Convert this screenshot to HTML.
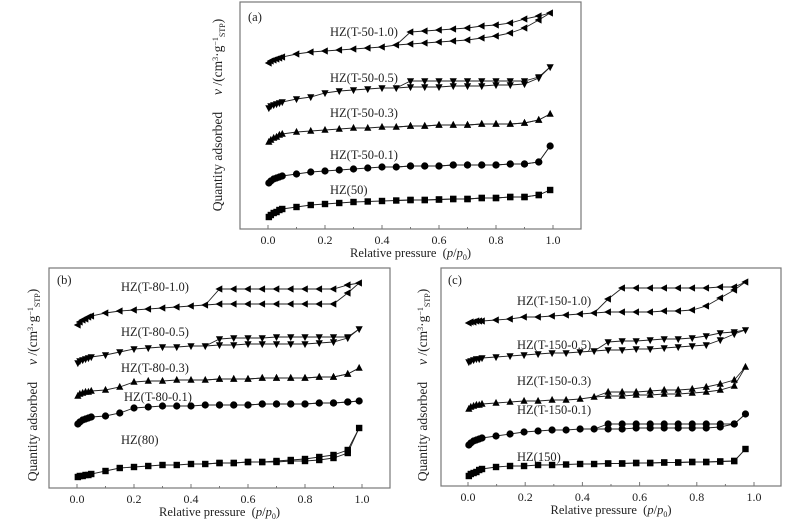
<!DOCTYPE html>
<html><head><meta charset="utf-8"><style>
body{margin:0;background:#fff;}
svg{display:block;font-family:"Liberation Serif",serif;}
</style></head><body>
<svg id="chart" width="793" height="524" viewBox="0 0 793 524"></svg>
<script>
const XA=[0.003,0.01,0.02,0.03,0.04,0.05,0.1,0.15,0.2,0.25,0.3,0.35,0.4,0.45,0.5,0.55,0.6,0.65,0.7,0.75,0.8,0.85,0.9,0.95,0.99];
const XD=[0.99,0.95,0.9,0.85,0.8,0.75,0.7,0.65,0.6,0.55,0.5,0.45];
const xTicks=[0.0,0.2,0.4,0.6,0.8,1.0];
const xTickLabels=["0.0","0.2","0.4","0.6","0.8","1.0"];
// panel a
const a50A=[12,14,16,17,19,20,22,24,25,26,27,27.5,28,28.5,29,29,29.5,30,30,31,31,32,32,34,39];
const a50D=[39,34,32,32,31,31,30,30,29.5,29,29,28.5];
const a01A=[46,48,50,51,52,53,55,57,58,59,60,61,62,62,63,63,63,64,64,64,64,65,65,67,83];
const a01D=[83,67,65,65,64,64,64,64,63,63,63,62];
const a03A=[87,89,91,92,94,95,97,98,99,100,101,101,102,102,103,103,104,104,104,105,105,105,106,109,115];
const a03D=[115,109,106,105,105,105,104,104,104,103,103,102];
const a05A=[121,123,124,125,126,127,130,132,136,138,139,140,141,141,142,142,142,143,143,143,144,144,145,151,162];
const a05D=[162,152,148,148,148,148,148,148,148,148,148,141];
const a10A=[166,168,169,170,171,172,175,177,178,179,180,181,182,184,185,186,187,188,189,191,193,196,201,209,216];
const a10D=[216,213,210,206,204,203,201,200,199,198,197,184];
// panel b
const b80A=[11,12,12,13,13,14,17,20,21,22,23,23,24,24,25,25,26,26,26,27,27,28,30,35,60];
const b80D=[60,38,33,31,29,28,27,26,26,25,25,24];
const b01A=[64,66,68,69,70,71,72,75,80,81,82,82,82,83,83,83,83,84,84,84,84,85,85,86,87];
const b01D=[87,86,85,85,84,84,84,84,83,83,83,83];
const b03A=[92,94,95,96,96,97,98,101,106,107,107,108,108,108,109,109,109,110,110,110,110,111,111,114,120];
const b03D=[120,114,111,111,110,110,110,110,109,109,109,108];
const b05A=[125,127,128,129,130,131,133,136,139,140,141,141,142,142,143,143,144,144,144,144,144,145,146,150,159];
const b05D=[159,151,151,151,151,151,151,150,150,150,149,142];
const b10A=[163,166,168,169,171,172,175,177,178,179,180,181,182,183,184,184,184,184,184,184,184,184,184,195,205];
const b10D=[205,203,199,199,199,199,199,199,199,199,199,183];
// panel c
const c150A=[10,12,13,14,16,17,19,20,20,21,21,21.5,22,22,22.5,22.5,23,23,23.5,23.5,24,24,24.5,25,37];
const c150D=[37,25,24.5,24,24,23.5,23.5,23,23,22.5,22.5,22];
const c01A=[41,43,45,46,47,48,50,52,54,55,56,56,57,57,57,57,58,58,58,58,58,58,59,62,72];
const c01D=[72,62,62,62,62,62,62,62,62,62,62,57];
const c03A=[77,79,80,81,81,82,83,84,85,85,86,86,87,89,90,90,91,91,92,92,93,94,96,100,119];
const c03D=[119,106,102,99,97,96,96,95,94,94,94,89];
const c05A=[124,125,126,127,127,128,129,130,131,132,133,133,134,135,136,136,137,137,138,139,140,141,146,152,156];
const c05D=[156,154,153,150,148,147,147,146,145,145,144,135];
const c10A=[163,164,164,165,165,165,166,167,169,169,170,171,172,173,174,174,174,174,175,175,176,180,188,196,204];
const c10D=[204,199,199,198,198,198,198,198,198,198,187,173];

const NS="http://www.w3.org/2000/svg";
const svg=document.getElementById('chart');
function mk(tag,attrs,parent){const e=document.createElementNS(NS,tag);for(const k in attrs)e.setAttribute(k,attrs[k]);(parent||svg).appendChild(e);return e;}

const panels=[
 {id:'a',L:240,R:581,T:2,B:229,x0:268,x1:553,xm:1,tag:'(a)',tagX:248,tagY:21,yt:218,ytc:115,
  series:[['HZ(50)',a50A,a50D,'sq',330,194],['HZ(T-50-0.1)',a01A,a01D,'ci',330,159],['HZ(T-50-0.3)',a03A,a03D,'up',330,117],['HZ(T-50-0.5)',a05A,a05D,'dn',330,82],['HZ(T-50-1.0)',a10A,a10D,'lf',330,36]]},
 {id:'b',L:49,R:390,T:268,B:488,x0:77,x1:362,xm:1,tag:'(b)',tagX:57,tagY:284,yt:33,ytc:385,
  series:[['HZ(80)',b80A,b80D,'sq',121,444],['HZ(T-80-0.1)',b01A,b01D,'ci',124,401],['HZ(T-80-0.3)',b03A,b03D,'up',121,372],['HZ(T-80-0.5)',b05A,b05D,'dn',121,336],['HZ(T-80-1.0)',b10A,b10D,'lf',121,291]]},
 {id:'c',L:441,R:781,T:268,B:486,x0:468,x1:754,xm:0.98,tag:'(c)',tagX:448,tagY:284,yt:423,ytc:385,
  series:[['HZ(150)',c150A,c150D,'sq',517,461],['HZ(T-150-0.1)',c01A,c01D,'ci',517,414],['HZ(T-150-0.3)',c03A,c03D,'up',517,385],['HZ(T-150-0.5)',c05A,c05D,'dn',517,349],['HZ(T-150-1.0)',c10A,c10D,'lf',517,305]]}
];

function marker(g,type,x,y){
 const s=3.6;let e;
 if(type==='sq')e=mk('rect',{x:x-s+0.4,y:y-s+0.4,width:2*s-0.8,height:2*s-0.8},g);
 else if(type==='ci')e=mk('circle',{cx:x,cy:y,r:s},g);
 else if(type==='up')e=mk('polygon',{points:`${x},${y-s-0.5} ${x-s},${y+s-0.8} ${x+s},${y+s-0.8}`},g);
 else if(type==='dn')e=mk('polygon',{points:`${x},${y+s+0.5} ${x-s},${y-s+0.8} ${x+s},${y-s+0.8}`},g);
 else e=mk('polygon',{points:`${x-s-0.5},${y} ${x+s-0.8},${y-s} ${x+s-0.8},${y+s}`},g);
 e.setAttribute('fill','#000');
 
 
}

panels.forEach(p=>{
 const g=mk('g',{});
 
 
 const xs=v=>p.x0+(p.x1-p.x0)*v*p.xm;
 const ys=v=>p.B-v;
 const fr=mk('rect',{x:p.L,y:p.T,width:p.R-p.L,height:p.B-p.T,fill:'none',stroke:'#777','stroke-width':1.2},g);
 
 
 for(let v=0;v<=1.001;v+=0.1){
  const X=p.x0+(p.x1-p.x0)*v;const major=Math.round(v*10)%2===0;
  mk('line',{x1:X,x2:X,y1:p.B,y2:p.B-(major?4:2),stroke:'#777','stroke-width':1},g);
 }
 xTicks.forEach((v,i)=>{
  const t=mk('text',{x:p.x0+(p.x1-p.x0)*v,y:p.B+15,'text-anchor':'middle','font-size':12,fill:'#222'},g);
  t.textContent=xTickLabels[i];
  
  
 });
 const xl=mk('text',{x:(p.x0+p.x1)/2,y:p.B+28,'text-anchor':'middle','font-size':12.5,fill:'#222'},g);
 xl.innerHTML='Relative pressure &#160;(<tspan font-style="italic">p</tspan>/<tspan font-style="italic">p</tspan><tspan font-size="8" dy="3">0</tspan><tspan dy="-3">)</tspan>';
 
 
 const yl=mk('text',{x:0,y:0,'text-anchor':'middle','font-size':13.5,fill:'#222',transform:`translate(${p.yt+4},${p.ytc}) rotate(-90)`},g);
 yl.innerHTML='Quantity adsorbed &#160;&#160;&#160;&#160;<tspan font-style="italic">v</tspan> /(cm<tspan font-size="8" dy="-4">3</tspan><tspan dy="4">·g</tspan><tspan font-size="8" dy="-4">−1</tspan><tspan font-size="8" dy="7">STP</tspan><tspan dy="-3">)</tspan>';
 
 
 const tg=mk('text',{x:p.tagX,y:p.tagY,'font-size':12.5,fill:'#222'},g);
 tg.textContent=p.tag;
 
 
 p.series.forEach(s=>{
  const [name,A,D,mt,lx,ly]=s;
  const sg=mk('g',{},g);
  
  
  const pa=A.map((v,i)=>xs(XA[i])+','+ys(v)).join(' ');
  mk('polyline',{points:pa,fill:'none',stroke:'#222','stroke-width':0.9},sg);
  const pd=D.map((v,i)=>xs(XD[i])+','+ys(v)).join(' ');
  mk('polyline',{points:pd,fill:'none',stroke:'#222','stroke-width':0.9},sg);
  A.forEach((v,i)=>marker(sg,mt,xs(XA[i]),ys(v)));
  D.forEach((v,i)=>{if(i>0&&i<D.length-1)marker(sg,mt,xs(XD[i]),ys(v));});
  const lt=mk('text',{x:lx,y:ly,'font-size':12.5,fill:'#222'},g);
  lt.textContent=name;
  
  
 });
});
</script>
</body></html>
